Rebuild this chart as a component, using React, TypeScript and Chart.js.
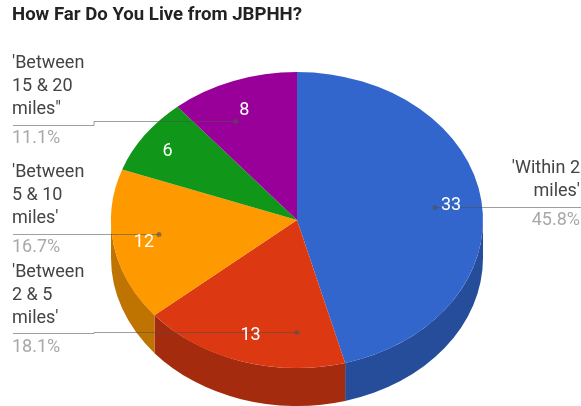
import React, { useEffect, useRef } from "react";
import { Chart, registerables } from "chart.js";

Chart.register(...registerables);

const titleText = "How Far Do You Live from JBPHH?";
const categories = ["'Within 2 miles'", "'Between 2 & 5 miles'", "'Between 5 & 10 miles'", "(unlabelled)", "'Between 15 & 20 miles\""];
const values = [33, 13, 12, 6, 8];
const sliceColors = ["#3366cc", "#dc3912", "#ff9900", "#109618", "#990099"];
const sideColors = ["#264d99", "#a52b0e", "#bf7300", "#0c7112", "#730073"];

// Outside callouts: text lines, which slice supplies the percentage, and layout
const callouts = [
  { slice: 4, lines: ["'Between", "15 & 20", "miles\""], x: 12, align: "left", baselines: [68, 91, 114], pctY: 143, path: [[13, 125], [94, 125], [94, 121], [236, 121]] },
  { slice: 2, lines: ["'Between", "5 & 10", "miles'"], x: 12, align: "left", baselines: [177, 200, 223], pctY: 252, path: [[13, 234], [159, 234]] },
  { slice: 1, lines: ["'Between", "2 & 5", "miles'"], x: 12, align: "left", baselines: [277, 300, 323], pctY: 352, path: [[13, 333], [94, 333], [94, 332], [297, 332]] },
  { slice: 0, lines: ["'Within 2", "miles'"], x: 580, align: "right", baselines: [173, 196], pctY: 225, path: [[581, 207], [435, 207]] },
];
const valueLabelNudgeX = [1, 0, -1, -3, 0];
const valueLabelNudgeY = [2, -2, 1, 2, 6];

const CY = 220;
const RY = 148;
const DEPTH = 38;
const FONT = "Roboto, Arial, sans-serif";

const pie3d = {
  id: "pie3d",
  beforeDatasetsDraw(chart: any) {
    const ctx = chart.ctx;
    const arcs = chart.getDatasetMeta(0).data;
    ctx.save();
    arcs.forEach((arc: any, i: number) => {
      const { x, outerRadius, startAngle, endAngle } = arc.getProps(["x", "outerRadius", "startAngle", "endAngle"], true);
      for (const shift of [0, Math.PI * 2]) {
        const a = Math.max(startAngle - shift, 0);
        const b = Math.min(endAngle - shift, Math.PI);
        if (b <= a) continue;
        ctx.beginPath();
        ctx.ellipse(x, CY, outerRadius, RY, 0, a, b, false);
        ctx.ellipse(x, CY + DEPTH, outerRadius, RY, 0, b, a, true);
        ctx.closePath();
        ctx.fillStyle = sideColors[i];
        ctx.fill();
      }
    });
    ctx.restore();
    const cy0 = arcs[0].getProps(["y"], true).y;
    const r = arcs[0].getProps(["outerRadius"], true).outerRadius;
    ctx.save();
    ctx.translate(0, CY);
    ctx.scale(1, RY / r);
    ctx.translate(0, -cy0);
  },
  afterDatasetsDraw(chart: any) {
    const ctx = chart.ctx;
    ctx.restore();
    const arcs = chart.getDatasetMeta(0).data;
    const total = values.reduce((s, v) => s + v, 0);

    ctx.save();
    ctx.textBaseline = "alphabetic";
    ctx.fillStyle = "#222222";
    ctx.textAlign = "left";
    ctx.font = `bold 18.6px ${FONT}`;
    ctx.fillText(titleText, 12, 20);

    callouts.forEach((c) => {
      ctx.font = `18px ${FONT}`;
      ctx.textAlign = c.align;
      ctx.fillStyle = "#444444";
      c.lines.forEach((t, k) => ctx.fillText(t, c.x, c.baselines[k]));
      ctx.fillStyle = "#a8a8a8";
      ctx.fillText(((values[c.slice] / total) * 100).toFixed(1) + "%", c.x, c.pctY);
    });

    callouts.forEach((c) => {
      ctx.beginPath();
      c.path.forEach(([px, py], k) => (k ? ctx.lineTo(px, py + 0.5) : ctx.moveTo(px, py + 0.5)));
      ctx.strokeStyle = "rgba(80,80,80,0.55)";
      ctx.lineWidth = 1;
      ctx.stroke();
      const [dx, dy] = c.path[c.path.length - 1];
      ctx.beginPath();
      ctx.arc(dx, dy + 0.5, 2.5, 0, Math.PI * 2);
      ctx.fillStyle = "rgba(80,80,80,0.6)";
      ctx.fill();
    });

    arcs.forEach((arc: any, i: number) => {
      const { x, outerRadius, startAngle, endAngle } = arc.getProps(["x", "outerRadius", "startAngle", "endAngle"], true);
      const mid = (startAngle + endAngle) / 2;
      const lx = x + outerRadius * 0.83 * Math.cos(mid) + valueLabelNudgeX[i];
      const ly = CY + RY * 0.83 * Math.sin(mid) + valueLabelNudgeY[i];
      ctx.font = `18px ${FONT}`;
      ctx.textAlign = "center";
      ctx.textBaseline = "middle";
      ctx.fillStyle = "#ffffff";
      ctx.fillText(String(values[i]), lx, ly);
    });
    ctx.restore();
  },
};

export default function App() {
  const ref = useRef<HTMLCanvasElement>(null);
  useEffect(() => {
    const chart = new Chart(ref.current!, {
      type: "pie",
      data: {
        labels: categories,
        datasets: [{ data: values, backgroundColor: sliceColors, borderWidth: 0, clip: false } as any],
      },
      options: {
        animation: false,
        responsive: false,
        layout: { padding: { left: 111, right: 98, top: 17, bottom: 17 } },
        plugins: { legend: { display: false }, title: { display: false }, tooltip: { enabled: false } },
      },
      plugins: [pie3d],
    } as any);
    return () => chart.destroy();
  }, []);
  return (
    <div style={{ position: "absolute", left: 0, top: 0, width: 581, height: 406, background: "#fff" }}>
      <canvas ref={ref} width={581} height={406} style={{ display: "block", filter: "blur(0.35px)" }} />
    </div>
  );
}
